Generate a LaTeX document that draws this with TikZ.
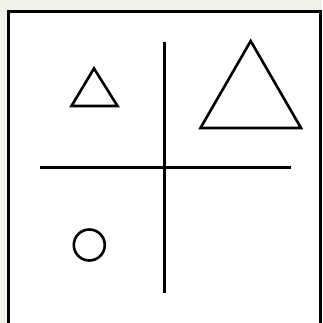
\documentclass[tikz,border=0pt]{standalone}
\usepackage{tikz}
\definecolor{cpaper}{HTML}{F1F0E9}
\definecolor{cink}{HTML}{000000}

\begin{document}
\begin{tikzpicture}[
    x=1pt, y=-1pt,
    figline/.style={line width=2.6pt, draw=cink, line join=miter},
    frameline/.style={line width=3pt, draw=cink},
]

% ============================================================
% BACKGROUND AND FRAME
% ============================================================
\fill[cpaper] (0,0) rectangle (322,323);
\useasboundingbox (0,0) rectangle (322,323);
\filldraw[frameline, fill=white] (8.5,11.5) rectangle (320,335);

% ============================================================
% CROSS
% ============================================================
\coordinate (vtop) at (164.7,42.5);
\coordinate (vbot) at (164.7,292.7);
\coordinate (hleft) at (40,167.5);
\coordinate (hright) at (290.7,167.5);
\draw[figline] (vtop) -- (vbot);
\draw[figline] (hleft) -- (hright);

% ============================================================
% SHAPES
% ============================================================
% small triangle
\draw[figline] (94,68.5) -- (117.5,106) -- (71.5,106) -- cycle;

% large triangle
\draw[figline] (250.7,41) -- (301,128) -- (200.5,128) -- cycle;

% circle
\draw[figline] (89.3,245) circle (15.5);

\end{tikzpicture}
\end{document}
